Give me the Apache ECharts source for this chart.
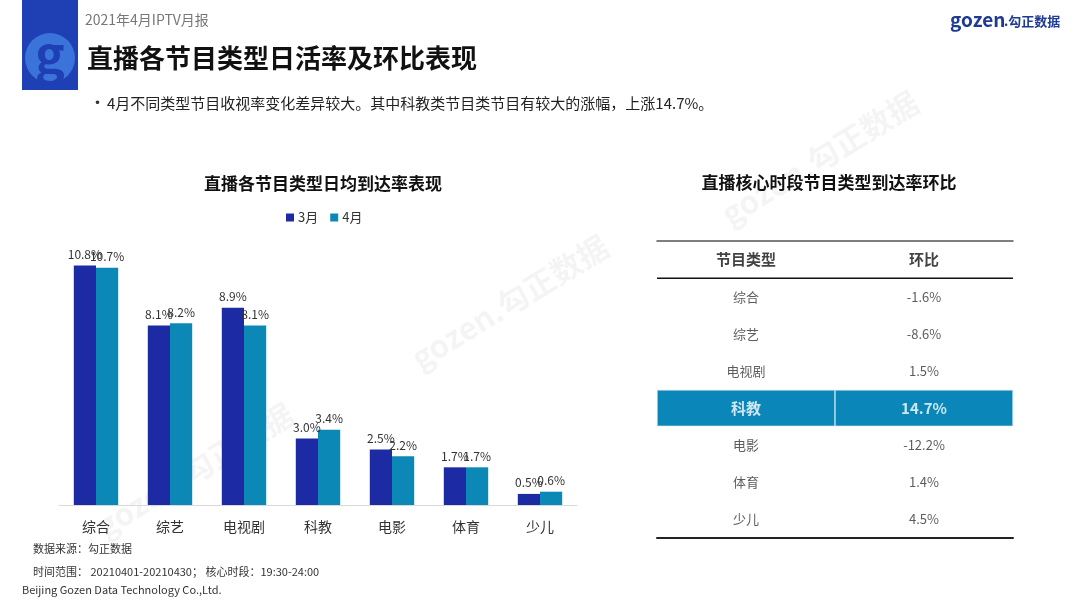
<!DOCTYPE html>
<html>
<head>
<meta charset="utf-8">
<script src="https://cdn.jsdelivr.net/npm/echarts@6/dist/echarts.min.js"></script>
<style>
html,body{margin:0;padding:0;background:#fff;}
#main{width:1080px;height:607px;}
</style>
</head>
<body>
<div id="main"></div>
<script>
// ---- data ----
var categories = ['综合', '综艺', '电视剧', '科教', '电影', '体育', '少儿'];
var march = [10.8, 8.1, 8.9, 3.0, 2.5, 1.7, 0.5];
var april = [10.7, 8.2, 8.1, 3.4, 2.2, 1.7, 0.6];
var momChange = [-1.6, -8.6, 1.5, 14.7, -12.2, 1.4, 4.5];
var tableHeader = ['节目类型', '环比'];
var seriesNames = ['3月', '4月'];

var FONT = '"Noto Sans CJK SC", "Noto Sans", sans-serif';
var C3 = '#1c2aa3';
var C4 = '#0b88b6';

var tableRows = [tableHeader[0]].concat(categories);
var hiIdx = momChange.indexOf(Math.max.apply(null, momChange));
var hiName = categories[hiIdx];

function fmt(v) { return v.toFixed(1) + '%'; }

var nameCol = [];
var valCol = [];
nameCol.push({ value: [0.5, tableHeader[0]], label: { fontWeight: 'bold', fontSize: 15, color: '#111' } });
valCol.push({ value: [1.5, tableHeader[0]], label: { fontWeight: 'bold', fontSize: 15, color: '#111' }, text: tableHeader[1] });
categories.forEach(function (c, i) {
  var hi = i === hiIdx;
  nameCol.push({ value: [0.5, c], label: hi ? { fontWeight: 'bold', fontSize: 15, color: '#fff' } : {} });
  valCol.push({ value: [1.5, c], text: fmt(momChange[i]), label: hi ? { fontWeight: 'bold', fontSize: 15, color: '#fff' } : {} });
});
var hiBar = tableRows.map(function (r) { return r === hiName ? 1 : '-'; });

var watermark = function (x, y) {
  return {
    type: 'text', x: x, y: y, rotation: 0.55, z: 0, silent: true,
    style: { text: 'gozen.勾正数据', font: 'bold 31px ' + FONT, fill: 'rgba(0,0,0,0.045)', textAlign: 'center', textVerticalAlign: 'middle' }
  };
};

var chart = echarts.init(document.getElementById('main'));
var option = {
  backgroundColor: '#fff',
  textStyle: { fontFamily: FONT },
  animation: false,
  title: [
    { text: '直播各节目类型日均到达率表现', left: 318, top: 170, textAlign: 'center',
      textStyle: { fontSize: 17, fontWeight: 'bold', color: '#111', fontFamily: FONT } },
    { text: '直播核心时段节目类型到达率环比', left: 824, top: 169, textAlign: 'center',
      textStyle: { fontSize: 17, fontWeight: 'bold', color: '#111', fontFamily: FONT } }
  ],
  legend: {
    data: seriesNames, left: 281, top: 206, itemWidth: 8, itemHeight: 8, itemGap: 12,
    icon: 'rect', textStyle: { fontSize: 13, color: '#333', fontFamily: FONT, padding: [0, 0, 0, -1] }
  },
  grid: [
    { left: 59, right: 503, top: 239, bottom: 102 },
    { left: 657, width: 356, top: 241, height: 297 }
  ],
  xAxis: [
    { type: 'category', gridIndex: 0, data: categories,
      axisLine: { lineStyle: { color: '#d9d9d9', width: 1 } }, axisTick: { show: false },
      axisLabel: { fontSize: 14, color: '#333', margin: 15, fontFamily: FONT } },
    { type: 'value', gridIndex: 1, min: 0, max: 2, position: 'top',
      axisLine: { show: true, onZero: false, lineStyle: { color: '#555', width: 1.5 } },
      axisTick: { show: false }, axisLabel: { show: false }, splitLine: { show: false } },
    { type: 'value', gridIndex: 1, min: 0, max: 2, position: 'bottom',
      axisLine: { show: true, onZero: false, lineStyle: { color: '#222', width: 2 } },
      axisTick: { show: false }, axisLabel: { show: false }, splitLine: { show: false } }
  ],
  yAxis: [
    { type: 'value', gridIndex: 0, min: 0, max: 12, show: false },
    { type: 'category', gridIndex: 1, data: tableRows, inverse: true, show: false }
  ],
  series: [
    { name: seriesNames[0], type: 'bar', xAxisIndex: 0, yAxisIndex: 0, data: march,
      itemStyle: { color: C3 }, barGap: '0%', barCategoryGap: '40%',
      label: { show: true, position: 'top', distance: 5, fontSize: 12, color: '#333', formatter: function (p) { return fmt(p.value); } } },
    { name: seriesNames[1], type: 'bar', xAxisIndex: 0, yAxisIndex: 0, data: april,
      itemStyle: { color: C4 }, barGap: '0%', barCategoryGap: '40%',
      label: { show: true, position: 'top', distance: 5, fontSize: 12, color: '#333', formatter: function (p) { return fmt(p.value); } } },
    { type: 'bar', xAxisIndex: 1, yAxisIndex: 1, stack: 'hi', data: hiBar, barWidth: '98%', z: 1,
      itemStyle: { color: '#0b86b8', borderColor: '#cde7f1', borderWidth: 0.6 }, silent: true },
    { type: 'bar', xAxisIndex: 1, yAxisIndex: 1, stack: 'hi', data: hiBar, barWidth: '98%', z: 1,
      itemStyle: { color: '#0b86b8', borderColor: '#cde7f1', borderWidth: 0.6 }, silent: true },
    { type: 'scatter', xAxisIndex: 1, yAxisIndex: 1, data: nameCol, symbolSize: 1, z: 5,
      itemStyle: { color: 'rgba(0,0,0,0)' }, silent: true,
      label: { show: true, position: 'inside', fontSize: 13, color: '#333', fontFamily: FONT,
        formatter: function (p) { return p.value[1]; } } },
    { type: 'scatter', xAxisIndex: 1, yAxisIndex: 1, data: valCol, symbolSize: 1, z: 5,
      itemStyle: { color: 'rgba(0,0,0,0)' }, silent: true,
      label: { show: true, position: 'inside', fontSize: 13, color: '#333', fontFamily: FONT,
        formatter: function (p) { return p.data.text; } } }
  ],
  graphic: [
    watermark(820, 158), watermark(510, 302), watermark(195, 470),
    { type: 'rect', shape: { x: 22, y: 0, width: 56, height: 90 }, style: { fill: '#1f40b4' }, z: 10 },
    { type: 'circle', shape: { cx: 50, cy: 58, r: 25 }, style: { fill: '#3a73d9' }, z: 11 },
    { type: 'text', x: 50, y: 54, z: 12, style: { text: 'g', font: 'bold 50px ' + FONT, fill: '#1f40b4', textAlign: 'center', textVerticalAlign: 'middle' } },
    { type: 'text', x: 85, y: 20, z: 10, style: { text: '2021年4月IPTV月报', font: '14px ' + FONT, fill: '#777', textVerticalAlign: 'middle' } },
    { type: 'text', x: 87, y: 58, z: 10, style: { text: '直播各节目类型日活率及环比表现', font: 'bold 26px ' + FONT, fill: '#111', textVerticalAlign: 'middle' } },
    { type: 'text', x: 89, y: 103, z: 10, style: { text: '•', font: '17px ' + FONT, fill: '#333', textVerticalAlign: 'middle' } },
    { type: 'text', x: 107, y: 103, z: 10, style: { text: '4月不同类型节目收视率变化差异较大。其中科教类节目类节目有较大的涨幅，上涨14.7%。', font: '15px ' + FONT, fill: '#222', textVerticalAlign: 'middle' } },
    { type: 'text', x: 950, y: 20, z: 10, style: { text: 'gozen', font: 'bold 19px ' + FONT, fill: '#1f3a93', textVerticalAlign: 'middle' } },
    { type: 'text', x: 1004, y: 21, z: 10, style: { text: '.勾正数据', font: 'bold 13px ' + FONT, fill: '#1f3a93', textVerticalAlign: 'middle' } },
    { type: 'text', x: 33, y: 549, z: 10, style: { text: '数据来源：勾正数据', font: '11px ' + FONT, fill: '#333', textVerticalAlign: 'middle' } },
    { type: 'text', x: 33, y: 572, z: 10, style: { text: '时间范围： 20210401-20210430； 核心时段：19:30-24:00', font: '11px ' + FONT, fill: '#333', textVerticalAlign: 'middle' } },
    { type: 'text', x: 22, y: 590, z: 10, style: { text: 'Beijing Gozen Data Technology Co.,Ltd.', font: '11px ' + FONT, fill: '#333', textVerticalAlign: 'middle' } }
  ]
};
chart.setOption(option);

// header separator line at boundary between header row and first row
var y0 = chart.convertToPixel({ yAxisIndex: 1 }, tableRows[0]);
var y1 = chart.convertToPixel({ yAxisIndex: 1 }, tableRows[1]);
var yb = (y0 + y1) / 2;
var gs = option.graphic.slice();
gs.push({ type: 'line', z: 10, shape: { x1: 657, y1: yb, x2: 1013, y2: yb }, style: { stroke: '#111', lineWidth: 1.5 } });
chart.setOption({ graphic: gs });
</script>
</body>
</html>
